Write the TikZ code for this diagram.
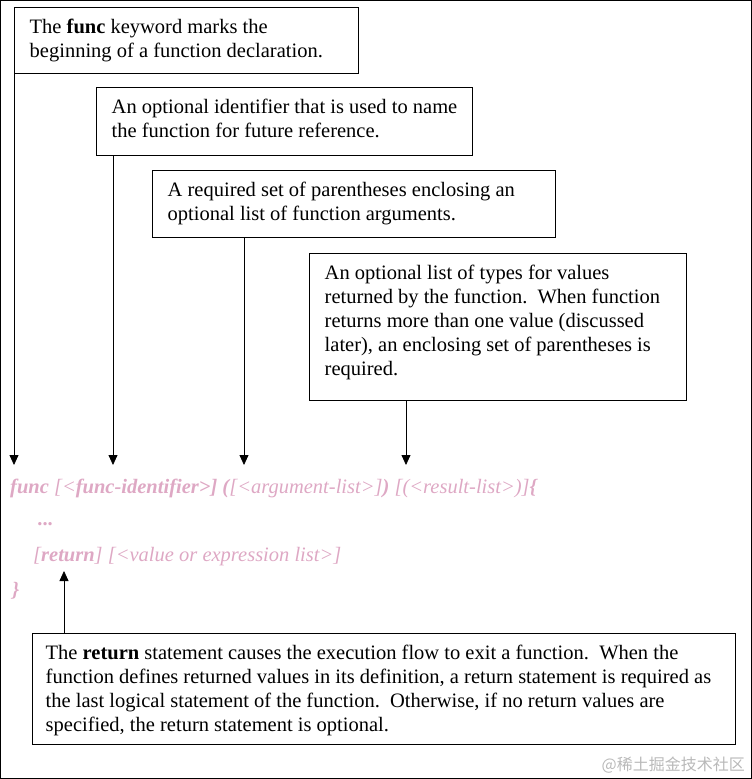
\documentclass[tikz,border=0pt]{standalone}
\usepackage{fontspec}
\setmainfont{Liberation Serif}
\newfontfamily\cjkfont{Noto Sans CJK SC}
\usetikzlibrary{arrows.meta}
\definecolor{codepink}{RGB}{222,168,196}
\definecolor{wmgray}{RGB}{185,185,185}
\newcommand\notetext[3]{\parbox[t][#2][t]{#1}{\raggedright\strut #3}}
\tikzset{
  note/.style={draw, line width=1.4pt, anchor=north west, inner xsep=15pt, inner ysep=9pt,
    font=\fontsize{20.5}{24}\selectfont},
  arr/.style={line width=0.8pt, -{Triangle[length=10pt,width=9pt]}},
  code/.style={anchor=base west, inner sep=0pt, text=codepink, font=\fontsize{20.5}{24}\selectfont\itshape},
}
\begin{document}
\begin{tikzpicture}[x=1pt,y=-1pt]
\useasboundingbox (0,0) rectangle (752,779);
\draw[line width=1pt] (0.5,0.5) rectangle (751.5,778.5);

\node[note] (b1) at (14,7) {\notetext{314pt}{48pt}{The \textbf{func} keyword marks the\\beginning of a function declaration.}};
\node[note] (b2) at (96,87) {\notetext{346pt}{50pt}{An optional identifier that is used to name\\the function for future reference.}};
\node[note] (b3) at (152,170) {\notetext{373pt}{49pt}{A required set of parentheses enclosing an\\optional list of function arguments.}};
\node[note] (b4) at (309,253) {\notetext{347pt}{129pt}{An optional list of types for values\\returned by the function.\ \ When function\\returns more than one value (discussed\\later), an enclosing set of parentheses is\\required.}};
\node[note, inner xsep=13pt] (b5) at (32,633) {\notetext{677pt}{93pt}{The \textbf{return} statement causes the execution flow to exit a function.\ \ When the\\function defines returned values in its definition, a return statement is required as\\the last logical statement of the function.\ \ Otherwise, if no return values are\\specified, the return statement is optional.}};

\node[code] (c1) at (10,493) {\textbf{func} [<\textbf{func-identifier>]} \textbf{(}[<argument-list>]\textbf{)} [(<result-list>)]\textbf{\{}};
\node[code] (c2) at (38,525) {\textbf{...}};
\node[code] (c3) at (33,561) {[\textbf{return}] [<value or expression list>]};
\node[code] (c4) at (12,596) {\textbf{\}}};

\coordinate (t1) at (14,465);
\coordinate (t2) at (113,465);
\coordinate (t3) at (244,465);
\coordinate (t4) at (406,465);
\coordinate (t5) at (64,571);
\draw[arr] (b1.south west) -- (t1);
\draw[arr] (b2.south -| t2) -- (t2);
\draw[arr] (b3.south -| t3) -- (t3);
\draw[arr] (b4.south -| t4) -- (t4);
\draw[arr] (b5.north -| t5) -- (t5);

\node[anchor=base east, text=wmgray, font=\cjkfont\fontsize{16}{16}\selectfont, inner sep=0pt] (wm) at (745,770) {@稀土掘金技术社区};
\end{tikzpicture}
\end{document}
